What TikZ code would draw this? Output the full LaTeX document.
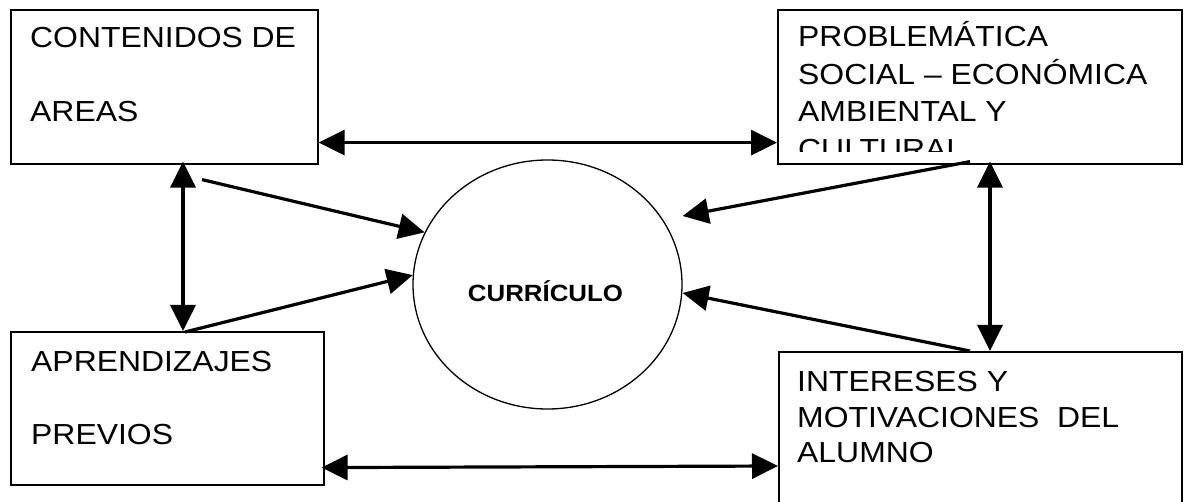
\documentclass[tikz,border=0pt]{standalone}
\usepackage{fontspec}
\setmainfont[FakeStretch=1.1]{Liberation Sans}
\usetikzlibrary{arrows.meta,shapes.geometric}
\begin{document}
\begin{tikzpicture}[x=1pt,y=-1pt,
  boxnode/.style={draw,line width=1.6pt,rectangle,inner sep=0pt,anchor=north west},
  txt/.style={anchor=base west,inner sep=0pt,font=\fontsize{29}{34}\selectfont},
  conn/.style={line width=3.2pt,-{Triangle[length=26pt,width=25pt]}},
  dconn/.style={line width=3.2pt,{Triangle[length=26pt,width=25pt]}-{Triangle[length=26pt,width=25pt]}}]
\useasboundingbox (0,0) rectangle (1184,502);
\clip (0,0) rectangle (1184,502);
% boxes
\node[boxnode,minimum width=307pt,minimum height=154pt] (A) at (10,9) {};
\node[boxnode,minimum width=404pt,minimum height=154pt] (B) at (777,9) {};
\node[boxnode,minimum width=313pt,minimum height=153pt] (C) at (10,331) {};
\node[boxnode,minimum width=403pt,minimum height=180pt] (D) at (778,351) {};
\node[draw,ellipse,line width=1.3pt,inner sep=0pt,minimum width=269pt,minimum height=249pt] (K) at (547.5,284.5) {};
% texts
\node[txt] (a1) at (30,48) {CONTENIDOS DE};
\node[txt] (a2) at (30,122) {AREAS};
\node[txt] (b1) at (798,47) {PROBLEMÁTICA};
\node[txt] (b2) at (798,85) {SOCIAL – ECONÓMICA};
\node[txt] (b3) at (798,122) {AMBIENTAL Y};
\begin{scope}
\clip (777,9) rectangle (1181,152);
\node[txt] (b4) at (798,160) {CULTURAL};
\end{scope}
\node[txt] (c1) at (31,372) {APRENDIZAJES};
\node[txt] (c2) at (31,445) {PREVIOS};
\node[txt] (d1) at (797,392) {INTERESES Y};
\node[txt] (d2) at (797,428) {MOTIVACIONES\ \ DEL};
\node[txt] (d3) at (797,463) {ALUMNO};
\node[anchor=base,inner sep=0pt,font=\bfseries\fontsize{23.5}{28}\selectfont] (k1) at (545.5,302) {CURRÍCULO};
% connectors
\draw[dconn] ([yshift=22pt]A.south east) -- ([yshift=22pt]B.south west);
\draw[dconn] ([xshift=-3pt,yshift=18pt]C.south east) -- ([yshift=-115pt]D.north west);
\draw[dconn] ([xshift=173pt,yshift=3pt]A.south west) -- ([xshift=173pt]C.north west);
\draw[dconn] ([xshift=213pt,yshift=3pt]B.south west) -- ([xshift=212pt]D.north west);
\draw[conn] ([xshift=192pt,yshift=-15pt]A.south west) -- (K.157);
\draw[conn] ([xshift=175pt,yshift=-1pt]C.north west) -- (K.176);
\draw[conn] ([xshift=193pt,yshift=3pt]B.south west) -- ([yshift=68.5pt]K.east);
\draw[conn] ([xshift=192pt]D.north west) -- ([yshift=-8.5pt]K.east);
\end{tikzpicture}
\end{document}
